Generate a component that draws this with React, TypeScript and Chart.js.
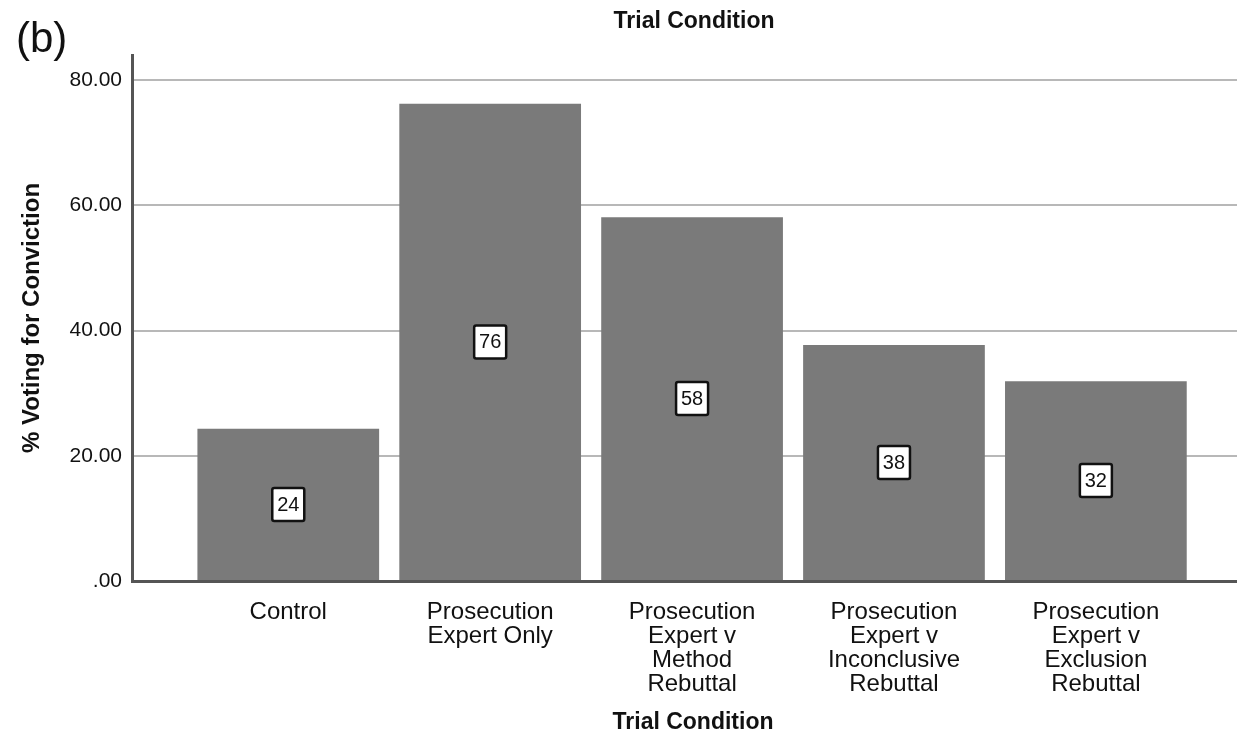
import React, { useEffect, useRef } from 'react';
import { Chart, registerables } from 'chart.js';

Chart.register(...registerables);

// ---- Data ----
const categories: string[][] = [
  ['Control'],
  ['Prosecution', 'Expert Only'],
  ['Prosecution', 'Expert v', 'Method', 'Rebuttal'],
  ['Prosecution', 'Expert v', 'Inconclusive', 'Rebuttal'],
  ['Prosecution', 'Expert v', 'Exclusion', 'Rebuttal'],
];
const values: number[] = [24.3, 76.2, 58.1, 37.7, 31.9];
const valueLabels: string[] = ['24', '76', '58', '38', '32'];
const yTickValues: number[] = [0, 20, 40, 60, 80];
const yTickLabels: string[] = ['.00', '20.00', '40.00', '60.00', '80.00'];
const chartTitle = 'Trial Condition';
const xAxisTitle = 'Trial Condition';
const yAxisTitle = '% Voting for Conviction';
const panelLabel = '(b)';

const FONT = '"Liberation Sans", Arial, sans-serif';

const textPlugin = {
  id: 'freeText',
  afterDraw(chart: any) {
    const ctx = chart.ctx;
    ctx.save();
    ctx.fillStyle = '#111';
    ctx.textBaseline = 'alphabetic';
    ctx.textAlign = 'center';
    ctx.font = `bold 23px ${FONT}`;
    ctx.fillText(chartTitle, 694, 28);
    ctx.fillText(xAxisTitle, 693, 729);
    ctx.textAlign = 'left';
    ctx.font = `42px ${FONT}`;
    ctx.fillText(panelLabel, 16, 52);
    ctx.restore();
  },
};

const boxPlugin = {
  id: 'valueBoxes',
  afterDatasetsDraw(chart: any) {
    const ctx = chart.ctx;
    const meta = chart.getDatasetMeta(0);
    ctx.save();
    meta.data.forEach((bar: any, i: number) => {
      const cx = bar.x;
      const cy = (bar.y + bar.base) / 2;
      const w = 32;
      const h = 33;
      ctx.beginPath();
      if ((ctx as any).roundRect) {
        (ctx as any).roundRect(cx - w / 2, cy - h / 2, w, h, 2);
      } else {
        ctx.rect(cx - w / 2, cy - h / 2, w, h);
      }
      ctx.fillStyle = '#ffffff';
      ctx.fill();
      ctx.lineWidth = 2.5;
      ctx.strokeStyle = '#111';
      ctx.stroke();
      ctx.fillStyle = '#111';
      ctx.font = `20px ${FONT}`;
      ctx.textAlign = 'center';
      ctx.textBaseline = 'middle';
      ctx.fillText(valueLabels[i], cx, cy + 1);
    });
    ctx.restore();
  },
};

export default function App() {
  const canvasRef = useRef<HTMLCanvasElement | null>(null);

  useEffect(() => {
    if (!canvasRef.current) return;
    const chart = new Chart(canvasRef.current, {
      type: 'bar',
      data: {
        datasets: [
          {
            data: values.map((v, i) => ({ x: i, y: v })),
            backgroundColor: '#7a7a7a',
            borderWidth: 0,
            barPercentage: 0.9,
            categoryPercentage: 1.0,
          },
        ],
      },
      options: {
        animation: false,
        responsive: true,
        maintainAspectRatio: false,
        layout: { padding: { top: 55, left: 0, right: 0, bottom: 0 } },
        plugins: {
          legend: { display: false },
          tooltip: { enabled: false },
          title: { display: false },
        },
        scales: {
          x: {
            type: 'linear',
            min: -0.774,
            max: 4.699,
            offset: false,
            grid: { display: false, offset: false, drawTicks: false },
            border: { display: true, color: '#555', width: 3 },
            afterBuildTicks: (scale: any) => {
              scale.ticks = categories.map((_, i) => ({ value: i }));
            },
            afterFit: (scale: any) => {
              scale.height = 156;
            },
            ticks: {
              autoSkip: false,
              maxRotation: 0,
              minRotation: 0,
              padding: 19,
              color: '#111',
              font: { family: FONT, size: 24, lineHeight: 1.0 },
              callback: (v: any) => categories[Math.round(Number(v))] ?? '',
            },
          },
          y: {
            type: 'linear',
            min: 0,
            max: 84,
            grid: { color: '#b8b8b8', lineWidth: 2, drawTicks: false },
            border: { display: true, color: '#555', width: 3 },
            afterBuildTicks: (scale: any) => {
              scale.ticks = yTickValues.map((v) => ({ value: v }));
            },
            afterFit: (scale: any) => {
              scale.width = 132;
            },
            ticks: {
              padding: 10,
              color: '#111',
              font: { family: FONT, size: 21 },
              callback: (v: any) => {
                const idx = yTickValues.indexOf(Number(v));
                return idx >= 0 ? yTickLabels[idx] : '';
              },
            },
            title: {
              display: true,
              text: yAxisTitle,
              color: '#111',
              font: { family: FONT, size: 24, weight: 'bold' },
              padding: { top: 18, bottom: 0 },
            },
          },
        },
      },
      plugins: [textPlugin, boxPlugin],
    } as any);
    return () => chart.destroy();
  }, []);

  return (
    <div style={{ position: 'absolute', left: 0, top: 0, width: 1237, height: 737, background: '#fff' }}>
      <canvas ref={canvasRef} />
    </div>
  );
}
